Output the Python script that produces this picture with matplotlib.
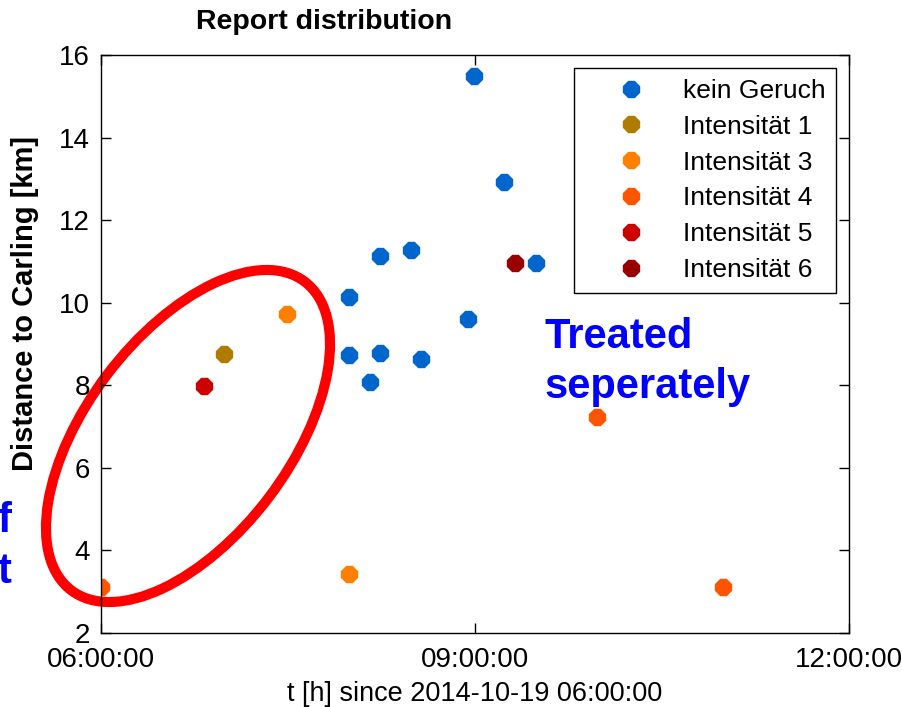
import matplotlib
matplotlib.use("Agg")
import matplotlib.pyplot as plt
from matplotlib.patches import Ellipse

plt.rcParams['font.family'] = ['Liberation Sans', 'DejaVu Sans']

# Report times in hours since 2014-10-19 06:00:00, distance in km
categories = ["kein Geruch", "Intensität 1", "Intensität 3",
              "Intensität 4", "Intensität 5", "Intensität 6"]
colors = ["#0066CC", "#B07C00", "#FF8000", "#FF5500", "#CC0000", "#990000"]

kein_t = [2.99, 3.23, 3.49, 2.49, 2.24, 1.99, 2.94, 1.99, 2.24, 2.16, 2.57]
kein_d = [15.48, 12.93, 10.96, 11.27, 11.12, 10.13, 9.60, 8.73, 8.78, 8.08, 8.63]
int1_t = [0.99]
int1_d = [8.76]
int3_t = [1.49, 1.99]
int3_d = [9.72, 3.42]
int4_t = [0.0, 3.98, 4.99]
int4_d = [3.12, 7.22, 3.12]
int5_t = [0.83]
int5_d = [7.99]
int6_t = [3.32]
int6_d = [10.96]

series_t = [kein_t, int1_t, int3_t, int4_t, int5_t, int6_t]
series_d = [kein_d, int1_d, int3_d, int4_d, int5_d, int6_d]

xticks = [0, 3, 6]
xticklabels = ["06:00:00", "09:00:00", "12:00:00"]
yticks = [2, 4, 6, 8, 10, 12, 14, 16]

W, H = 903, 707
fig = plt.figure(figsize=(W / 100, H / 100), dpi=100, facecolor="white")

# overlay in pixel coordinates for the annotation ellipse
over = fig.add_axes([0, 0, 1, 1], zorder=0)
over.set_xlim(0, W)
over.set_ylim(H, 0)
over.axis("off")
over.add_patch(Ellipse((188, 436), 387, 203, angle=-52.9, fill=False,
                       edgecolor="#FF0000", linewidth=7.3))

ax = fig.add_axes([101 / W, 1 - 633 / H, (849 - 101) / W, (633 - 55) / H], zorder=1)
ax.patch.set_alpha(0)

for name, col, t, d in zip(categories, colors, series_t, series_d):
    ax.plot(t, d, linestyle="none", marker="8", markersize=12.5,
            color=col, markeredgecolor=col, label=name)

ax.set_xlim(0, 6)
ax.set_ylim(2, 16)
ax.set_xticks(xticks)
ax.set_xticklabels(xticklabels)
ax.set_yticks(yticks)
ax.tick_params(direction="in", length=7, width=1, top=True, right=True,
               labelsize=20, pad=8)
ax.tick_params(axis="x", pad=10)
for s in ax.spines.values():
    s.set_linewidth(1)

ax.set_xlabel("t [h] since 2014-10-19 06:00:00", fontsize=19.5, labelpad=6)
ax.set_ylabel("Distance to Carling [km]", fontsize=21, fontweight="bold")
ax.yaxis.set_label_coords(-62 / 748, 0.570)

fig.text(324 / W, 1 - 22 / H, "Report distribution", fontsize=20.5,
         fontweight="bold", ha="center", va="center")

leg = ax.legend(loc="upper right", fontsize=19, numpoints=1, fancybox=False,
                framealpha=1, edgecolor="black", borderpad=0.4,
                handlelength=3.5, handletextpad=0.2, labelspacing=0.45,
                borderaxespad=0.5)
leg.get_frame().set_linewidth(1)

blue = "#0000FF"
fig.text(545 / W, 1 - 348 / H, "Treated", fontsize=30, fontweight="bold",
         color=blue, ha="left", va="baseline")
fig.text(545 / W, 1 - 398 / H, "seperately", fontsize=30, fontweight="bold",
         color=blue, ha="left", va="baseline")
fig.text(11 / W, 1 - 532 / H, "f", fontsize=30, fontweight="bold",
         color=blue, ha="right", va="baseline")
fig.text(11 / W, 1 - 583 / H, "t", fontsize=30, fontweight="bold",
         color=blue, ha="right", va="baseline")

fig.savefig("out.png", dpi=100, facecolor="white")
